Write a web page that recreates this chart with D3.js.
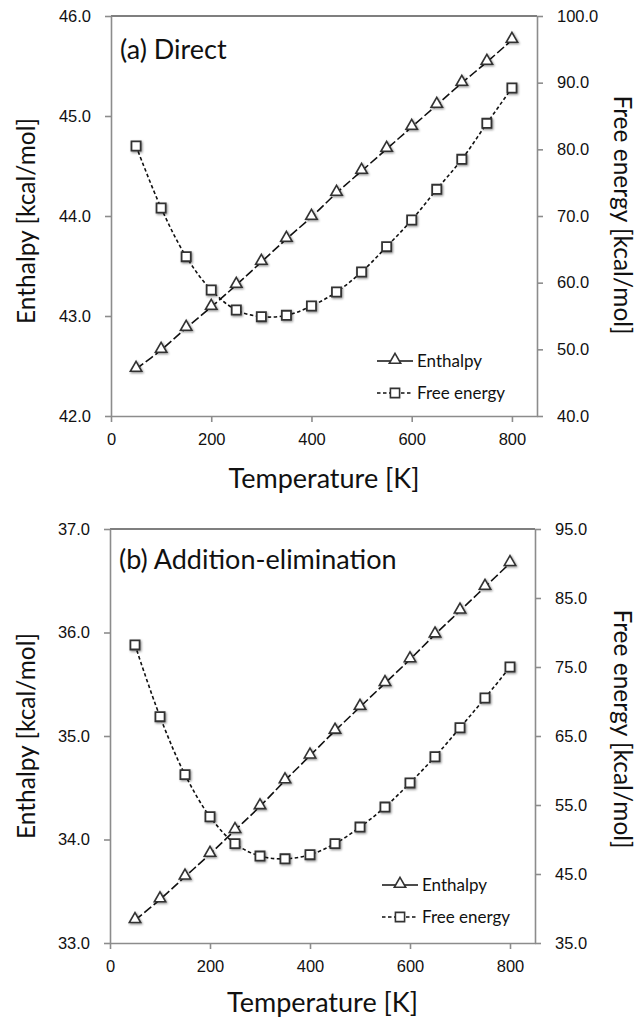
<!DOCTYPE html>
<html>
<head>
<meta charset="utf-8">
<script src="https://cdn.jsdelivr.net/npm/d3@7"></script>
<style>
  body { margin: 0; background: #fff; }
  svg { font-family: Lato, "Open Sans", sans-serif; }
</style>
</head>
<body>
<div id="chart"></div>
<script>
'use strict'

// Temperatures (K)
const temps = [50, 100, 150, 200, 250, 300, 350, 400, 450, 500, 550, 600, 650, 700, 750, 800];

// (a) Direct
const enthalpyA = [42.47, 42.66, 42.88, 43.09, 43.31, 43.54, 43.77, 43.99, 44.23, 44.45, 44.67, 44.89, 45.11, 45.33, 45.54, 45.76];
const freeEnergyA = [80.5, 71.2, 63.9, 58.9, 55.9, 54.9, 55.1, 56.5, 58.6, 61.6, 65.4, 69.4, 74.0, 78.5, 83.9, 89.2];

// (b) Addition-elimination
const enthalpyB = [33.22, 33.42, 33.64, 33.86, 34.09, 34.32, 34.57, 34.81, 35.05, 35.28, 35.51, 35.74, 35.98, 36.21, 36.44, 36.67];
const freeEnergyB = [78.2, 67.8, 59.4, 53.3, 49.4, 47.6, 47.2, 47.8, 49.4, 51.8, 54.7, 58.2, 62.0, 66.2, 70.5, 75.0];

// Tick values
const xTicks = [0, 200, 400, 600, 800];
const leftTicksA = [42, 43, 44, 45, 46];
const rightTicksA = [40, 50, 60, 70, 80, 90, 100];
const leftTicksB = [33, 34, 35, 36, 37];
const rightTicksB = [35, 45, 55, 65, 75, 85, 95];

const width = 640;
const height = 1017;

const svg = d3.select("#chart")
    .append("svg")
    .attr("width", width)
    .attr("height", height);

// soft shadow used on the markers
const defs = svg.append("defs");
const shadow = defs.append("filter")
    .attr("id", "shadow")
    .attr("x", "-50%").attr("y", "-50%")
    .attr("width", "200%").attr("height", "200%");
shadow.append("feDropShadow")
    .attr("dx", 1).attr("dy", 1.2)
    .attr("stdDeviation", 0.9)
    .attr("flood-color", "#000")
    .attr("flood-opacity", 0.45);

const axisColor = "#8c8c8c";
const markColor = "#333";

const triangle = d3.symbol().type(d3.symbolTriangle).size(56);
const square = d3.symbol().type(d3.symbolSquare).size(84);

function drawPanel(p) {
    const g = svg.append("g");

    const x = d3.scaleLinear().domain([0, 850]).range([p.left, p.right]);
    const yL = d3.scaleLinear().domain(p.leftDomain).range([p.bottom, p.top]);
    const yR = d3.scaleLinear().domain(p.rightDomain).range([p.bottom, p.top]);

    // top border of the plot area
    g.append("line")
        .attr("x1", p.left).attr("x2", p.right)
        .attr("y1", p.top).attr("y2", p.top)
        .attr("stroke", "#555")
        .attr("stroke-width", 1.3);

    // axes
    const xAxis = g.append("g")
        .attr("transform", `translate(0,${p.bottom})`)
        .call(d3.axisBottom(x).tickValues(xTicks).tickFormat(d3.format("d")).tickSizeInner(6).tickSizeOuter(0).tickPadding(11));

    const leftAxis = g.append("g")
        .attr("transform", `translate(${p.left},0)`)
        .call(d3.axisLeft(yL).tickValues(p.leftTicks).tickFormat(d3.format(".1f")).tickSizeInner(6).tickSizeOuter(0).tickPadding(14));

    const rightAxis = g.append("g")
        .attr("transform", `translate(${p.right},0)`)
        .call(d3.axisRight(yR).tickValues(p.rightTicks).tickFormat(d3.format(".1f")).tickSizeInner(6).tickSizeOuter(0).tickPadding(14));

    [xAxis, leftAxis, rightAxis].forEach(a => {
        a.selectAll("path, line").attr("stroke", axisColor).attr("stroke-width", 1.6);
        a.selectAll("text").attr("fill", "#111").style("font-size", "16.5px");
    });

    // smoothed lines, like the spreadsheet original
    const enthLine = d3.line()
        .curve(d3.curveCatmullRom.alpha(0.5))
        .x((d, i) => x(temps[i]))
        .y(d => yL(d));
    const freeLine = d3.line()
        .curve(d3.curveCatmullRom.alpha(0.5))
        .x((d, i) => x(temps[i]))
        .y(d => yR(d));

    g.append("path")
        .datum(p.enthalpy)
        .attr("d", enthLine)
        .attr("fill", "none")
        .attr("stroke", "#111")
        .attr("stroke-width", 1.6)
        .attr("stroke-dasharray", "9,3");

    g.append("path")
        .datum(p.freeEnergy)
        .attr("d", freeLine)
        .attr("fill", "none")
        .attr("stroke", "#111")
        .attr("stroke-width", 1.6)
        .attr("stroke-dasharray", "3.5,2.5");

    // markers
    g.selectAll(".tri")
        .data(p.enthalpy)
        .enter().append("path")
        .attr("class", "tri")
        .attr("d", triangle)
        .attr("transform", (d, i) => `translate(${x(temps[i])},${yL(d) - 1})`)
        .attr("fill", "#fff")
        .attr("stroke", markColor)
        .attr("stroke-width", 1.6)
        .attr("filter", "url(#shadow)");

    g.selectAll(".sq")
        .data(p.freeEnergy)
        .enter().append("path")
        .attr("class", "sq")
        .attr("d", square)
        .attr("transform", (d, i) => `translate(${x(temps[i])},${yR(d)})`)
        .attr("fill", "#fff")
        .attr("stroke", markColor)
        .attr("stroke-width", 1.8)
        .attr("filter", "url(#shadow)");

    // panel title
    g.append("text")
        .attr("x", p.left + 9)
        .attr("y", p.top + p.titleDy)
        .style("font-size", "27px")
        .attr("fill", "#111")
        .text(p.title);

    // axis titles
    g.append("text")
        .attr("transform", `translate(35,${p.leftTitleY}) rotate(-90)`)
        .attr("text-anchor", "middle")
        .style("font-size", "24.5px")
        .attr("fill", "#111")
        .text("Enthalpy [kcal/mol]");

    g.append("text")
        .attr("transform", `translate(614,${p.rightTitleY}) rotate(90)`)
        .attr("text-anchor", "middle")
        .style("font-size", "24.5px")
        .attr("fill", "#111")
        .text("Free energy [kcal/mol]");

    g.append("text")
        .attr("x", (p.left + p.right) / 2)
        .attr("y", p.bottom + p.xTitleDy)
        .attr("text-anchor", "middle")
        .style("font-size", "27px")
        .attr("fill", "#111")
        .text("Temperature [K]");

    // legend
    const legend = g.selectAll(".legend")
        .data(["Enthalpy", "Free energy"])
        .enter().append("g")
        .attr("class", "legend")
        .attr("transform", (d, i) => `translate(${p.legendX},${p.legendY + i * 32})`);

    legend.append("line")
        .attr("x1", 0).attr("x2", 36)
        .attr("stroke", "#111")
        .attr("stroke-width", 1.6)
        .attr("stroke-dasharray", d => d === "Enthalpy" ? null : "3.5,2.5");

    legend.append("path")
        .attr("d", d => d === "Enthalpy" ? triangle() : square())
        .attr("transform", d => d === "Enthalpy" ? "translate(18,-1)" : "translate(18,0)")
        .attr("fill", "#fff")
        .attr("stroke", markColor)
        .attr("stroke-width", 1.6);

    legend.append("text")
        .attr("x", 40)
        .attr("dy", "0.35em")
        .style("font-size", "17px")
        .attr("fill", "#111")
        .text(d => d);
}

drawPanel({
    left: 111, right: 537, top: 16, bottom: 416,
    leftDomain: [42, 46], rightDomain: [40, 100],
    leftTicks: leftTicksA, rightTicks: rightTicksA,
    enthalpy: enthalpyA, freeEnergy: freeEnergyA,
    title: "(a) Direct", titleDy: 43,
    leftTitleY: 221, rightTitleY: 215, xTitleDy: 72,
    legendX: 377, legendY: 361
});

drawPanel({
    left: 110, right: 535, top: 529, bottom: 943,
    leftDomain: [33, 37], rightDomain: [35, 95],
    leftTicks: leftTicksB, rightTicks: rightTicksB,
    enthalpy: enthalpyB, freeEnergy: freeEnergyB,
    title: "(b) Addition-elimination", titleDy: 40,
    leftTitleY: 736, rightTitleY: 729, xTitleDy: 69,
    legendX: 382, legendY: 885
});
</script>
</body>
</html>
